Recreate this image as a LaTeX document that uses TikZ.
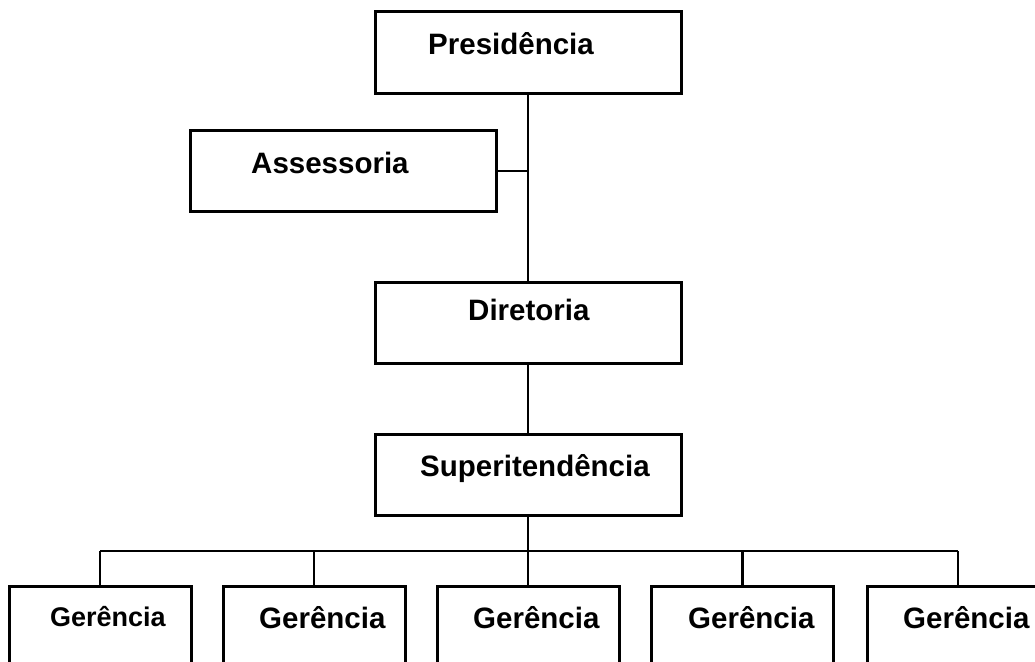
\documentclass[tikz,border=0pt]{standalone}
\usepackage{fontspec}
\setmainfont{Liberation Sans}
\begin{document}
\begin{tikzpicture}[x=1pt,y=-1pt,
  unit/.style={draw=black, line width=3pt, minimum width=306pt, minimum height=81pt, inner sep=0pt, outer sep=0pt},
  lower/.style={unit, minimum width=182pt},
  caption/.style={anchor=base west, inner sep=0pt, font=\fontsize{29.5}{32}\selectfont\bfseries},
  link/.style={line width=2.8pt}]
  \useasboundingbox (0,0) rectangle (1035,661);
  \clip (0,0) rectangle (1035,661);

  % upper levels
  \node[unit] (pres) at (528,52.5) {};
  \node[caption] (presT) at (428,55) {Presidência};
  \node[unit] (ass) at (343,171) {};
  \node[caption] (assT) at (251,173) {Assessoria};
  \node[unit] (dir) at (528,322.5) {};
  \node[caption] (dirT) at (468,320) {Diretoria};
  \node[unit] (sup) at (528,475) {};
  \node[caption] (supT) at (420,476) {Superitendência};

  % managers row
  \node[lower] (g1) at (100,627) {};
  \node[lower] (g2) at (314,627) {};
  \node[lower] (g3) at (528,627) {};
  \node[lower] (g4) at (742.5,627) {};
  \node[lower] (g5) at (958,627) {};
  \node[caption, font=\fontsize{27}{30}\selectfont\bfseries] (g1T) at (50,626) {Gerência};
  \node[caption] (g2T) at (259,628) {Gerência};
  \node[caption] (g3T) at (473,628) {Gerência};
  \node[caption] (g4T) at (688,628) {Gerência};
  \node[caption] (g5T) at (903,628) {Gerência};

  % connectors
  \draw[link] (pres.south) -- (dir.north);
  \draw[link] (ass.east) -- (ass.east -| pres.south);
  \draw[link] (dir.south) -- (sup.north);
  \coordinate (bus) at (528,551);
  \draw[link] (sup.south) -- (bus);
  \draw[link] (g1.north |- bus) -- (g5.north |- bus);
  \foreach \i in {1,...,5}
    \draw[link] (g\i.north |- bus) -- (g\i.north);
\end{tikzpicture}
\end{document}
